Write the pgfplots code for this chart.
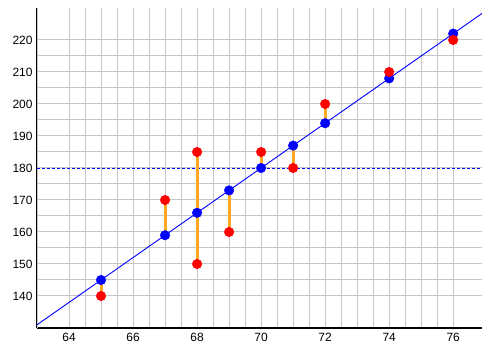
\documentclass[border=0pt]{standalone}
\usepackage{pgfplots}
\pgfplotsset{compat=1.18}
\usepackage{fontspec}
\setmainfont{Liberation Sans}
\definecolor{gridgray}{RGB}{198,198,198}
\definecolor{resid}{RGB}{255,170,30}
\begin{document}
\begin{tikzpicture}
\begin{axis}[
  scale only axis,
  width=445bp, height=320bp,
  xmin=63, xmax=76.9, ymin=130, ymax=230,
  axis x line*=bottom, axis y line*=left,
  axis line style={black, line width=1.2bp, -},
  xtick={64,66,...,76}, ytick={140,150,...,220},
  minor x tick num=3, minor y tick num=1,
  extra x ticks={63}, extra x tick labels={},
  grid=both,
  major grid style={gridgray, line width=1bp},
  minor grid style={gridgray, line width=1bp},
  major tick length=0pt, minor tick length=0pt,
  tick label style={font=\fontsize{12}{14}\selectfont},
  /pgf/number format/assume math mode=true,
  xticklabel style={yshift=-2bp},
  yticklabel style={xshift=-1bp},
  unbounded coords=jump,
  clip=true,
]
% mean line
\addplot[blue, line width=0.9bp, dash pattern=on 3bp off 2bp, forget plot] coordinates {(63,180) (76.9,180)};
% residuals
\addplot[resid, line width=3bp, forget plot] coordinates {
 (65,140) (65,145) (65,nan)
 (67,170) (67,159) (67,nan)
 (68,185) (68,150) (68,nan)
 (69,160) (69,173) (69,nan)
 (70,185) (70,180) (70,nan)
 (71,180) (71,187) (71,nan)
 (72,200) (72,194) (72,nan)
 (74,210) (74,208) (74,nan)
 (76,220) (76,222)
};
% regression line
\addplot[blue, line width=0.9bp, forget plot] coordinates {(63,131) (76.9,228.3)};
% predicted
\addplot[only marks, mark=*, mark size=4.8bp, blue, mark options={draw=blue, fill=blue}] coordinates {
 (65,145) (67,159) (68,166) (69,173) (70,180) (71,187) (72,194) (74,208) (76,222)
};
% actual
\addplot[only marks, mark=*, mark size=4.8bp, red, mark options={draw=red, fill=red}] coordinates {
 (65,140) (67,170) (68,185) (68,150) (69,160) (70,185) (71,180) (72,200) (74,210) (76,220)
};
\end{axis}
\pgfresetboundingbox
\path[use as bounding box] ([shift={(-37bp,-19bp)}]current axis.south west) rectangle ([shift={(0bp,8bp)}]current axis.north east);
\end{tikzpicture}
\end{document}
